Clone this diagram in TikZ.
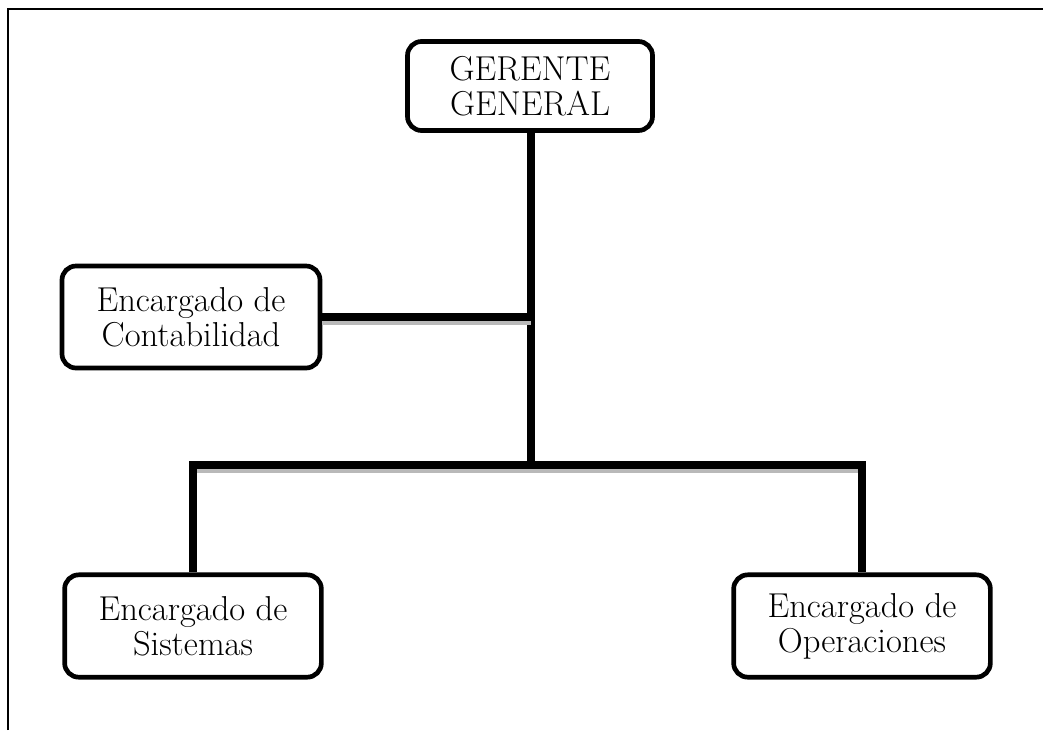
\documentclass[tikz,border=0pt]{standalone}

\begin{document}
\begin{tikzpicture}[x=0.03cm,y=-0.03cm,
  box/.style={draw,line width=4pt,rounded corners=12pt,align=center,
    font=\fontsize{29.5}{30}\selectfont},
  lower/.style={box,minimum width=7.7cm,minimum height=3.07cm},
  link/.style={line width=6pt},
  shadow/.style={line width=4pt,gray!55,transform canvas={yshift=-5pt}}]
  \useasboundingbox (0,0) rectangle (1043,730);

  % frame
  \draw[line width=1.8pt] (8,730) -- (8,9) -- (1043,9);

  \node[box,minimum width=7.35cm,minimum height=2.67cm] (ger) at (530,86) {GERENTE\\GENERAL};
  \node[box,minimum width=7.74cm,minimum height=3.06cm] (cont) at (191,317) {Encargado de\\Contabilidad};
  \node[lower] (sist) at (193,626) {Encargado de\\Sistemas};
  \node[lower] (oper) at (862,626) {Encargado de\\Operaciones};

  \coordinate (mid) at (531,465);

  \draw[link] (ger.south -| mid) -- (mid);
  \draw[shadow] (cont.east) -- (cont.east -| mid);
  \draw[link] (cont.east) -- (cont.east -| mid);
  \draw[shadow] (sist |- mid) -- (oper |- mid);
  \draw[link] (sist.north) -- (sist |- mid) -- (oper |- mid) -- (oper.north);
\end{tikzpicture}
\end{document}
